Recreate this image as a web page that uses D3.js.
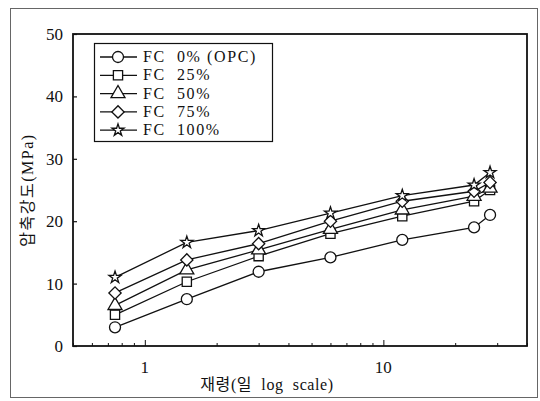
<!DOCTYPE html>
<html>
<head>
<meta charset="utf-8">
<script src="https://cdn.jsdelivr.net/npm/d3@7"></script>
<style>
  body { margin: 0; background: #fff; }
  svg text { font-family: "Liberation Serif", "Noto Sans CJK KR", serif; fill: #111; }
</style>
</head>
<body>
<div id="chart"></div>
<script>
// age in days, compressive strength in MPa
const ages = [0.75, 1.5, 3, 6, 12, 24, 28];
const seriesNames = ['FC  0% (OPC)', 'FC  25%', 'FC  50%', 'FC  75%', 'FC  100%'];
const fc0 = [3.0, 7.5, 11.9, 14.2, 17.0, 19.0, 21.0];
const fc25 = [5.0, 10.3, 14.4, 18.0, 20.8, 23.2, 25.0];
const fc50 = [6.5, 12.2, 15.4, 18.7, 21.8, 24.0, 25.3];
const fc75 = [8.5, 13.8, 16.4, 20.0, 23.2, 24.8, 26.2];
const fc100 = [11.0, 16.6, 18.5, 21.3, 24.1, 25.8, 27.8];
const yTicks = [0, 10, 20, 30, 40, 50];
const xTickLabels = [1, 10];

const width = 540, height = 401;
const margin = {top: 34, right: 13, bottom: 55, left: 73};

const svg = d3.select('#chart').append('svg')
    .attr('width', width).attr('height', height);

// outer frame of the scanned figure
svg.append('rect')
    .attr('x', 10.5).attr('y', 8.5)
    .attr('width', 527).attr('height', 389)
    .attr('fill', 'none').attr('stroke', '#666').attr('stroke-width', 1);

const x = d3.scaleLog().domain([0.5, 40]).range([margin.left, width - margin.right]);
const y = d3.scaleLinear().domain([0, 50]).range([height - margin.bottom, margin.top]);

// plot box
svg.append('rect')
    .attr('x', x.range()[0]).attr('y', y.range()[1])
    .attr('width', x.range()[1] - x.range()[0])
    .attr('height', y.range()[0] - y.range()[1])
    .attr('fill', 'none').attr('stroke', '#111').attr('stroke-width', 1.8);

// bottom axis, ticks pointing inward
const xAxis = svg.append('g')
    .attr('transform', `translate(0,${y(0)})`)
    .call(d3.axisBottom(x).ticks(10).tickSize(-3).tickFormat(''));
xAxis.select('.domain').remove();
xAxis.selectAll('line').attr('stroke', '#111').attr('stroke-width', 1);
xAxis.selectAll('.tick').filter(d => xTickLabels.includes(d))
    .select('line').attr('y2', -6);

svg.append('g').selectAll('text')
    .data(xTickLabels).join('text')
    .attr('x', d => x(d)).attr('y', y(0) + 27)
    .attr('text-anchor', 'middle')
    .style('font-size', '17px')
    .text(d => d);

// left axis
const yAxis = svg.append('g')
    .attr('transform', `translate(${x.range()[0]},0)`)
    .call(d3.axisLeft(y).tickValues(yTicks).tickSize(-4).tickPadding(10));
yAxis.select('.domain').remove();
yAxis.selectAll('line').attr('stroke', '#111').attr('stroke-width', 1.2);
yAxis.selectAll('text')
    .style('font-size', '17px')
    .style('font-family', '"Liberation Serif", serif')
    .attr('fill', '#111');

// axis titles
svg.append('text')
    .attr('x', 267).attr('y', 390)
    .attr('text-anchor', 'middle')
    .style('font-size', '16px')
    .style('letter-spacing', '0.6px')
    .attr('xml:space', 'preserve')
    .text('재령(일  log  scale)');

svg.append('text')
    .attr('transform', 'translate(33,190) rotate(-90)')
    .attr('text-anchor', 'middle')
    .style('font-size', '16px')
    .style('letter-spacing', '1.5px')
    .text('압축강도(MPa)');

// series
const symbols = [
    d3.symbol().type(d3.symbolCircle).size(95),
    d3.symbol().type(d3.symbolSquare).size(85),
    d3.symbol().type(d3.symbolTriangle).size(85),
    d3.symbol().type(d3.symbolSquare).size(75),
    d3.symbol().type(d3.symbolStar).size(45)
];
const rotations = [0, 0, 0, 45, 0];
const values = [fc0, fc25, fc50, fc75, fc100];

const line = d3.line()
    .x((d, i) => x(ages[i]))
    .y(d => y(d));

values.forEach((vals, s) => {
    svg.append('path')
        .datum(vals)
        .attr('d', line)
        .attr('fill', 'none')
        .attr('stroke', '#111')
        .attr('stroke-width', 1.3);
});

values.forEach((vals, s) => {
    svg.append('g').selectAll('path')
        .data(vals).join('path')
        .attr('d', symbols[s])
        .attr('transform', (d, i) => `translate(${x(ages[i])},${y(d)}) rotate(${rotations[s]})`)
        .attr('fill', '#fff')
        .attr('stroke', '#111')
        .attr('stroke-width', 1.3);
});

// legend
const legend = svg.append('g');
legend.append('rect')
    .attr('x', 94.5).attr('y', 43.5)
    .attr('width', 178).attr('height', 98)
    .attr('fill', '#fff').attr('stroke', '#111').attr('stroke-width', 1.2);

seriesNames.forEach((name, s) => {
    const cy = 57 + s * 18.3;
    legend.append('line')
        .attr('x1', 100).attr('x2', 137)
        .attr('y1', cy).attr('y2', cy)
        .attr('stroke', '#111').attr('stroke-width', 1.3);
    legend.append('path')
        .attr('d', symbols[s])
        .attr('transform', `translate(118,${cy}) rotate(${rotations[s]})`)
        .attr('fill', '#fff').attr('stroke', '#111').attr('stroke-width', 1.3);
    legend.append('text')
        .attr('x', 143).attr('y', cy + 5)
        .attr('xml:space', 'preserve')
        .style('font-size', '16px')
        .style('letter-spacing', '1.6px')
        .text(name);
});
</script>
</body>
</html>
